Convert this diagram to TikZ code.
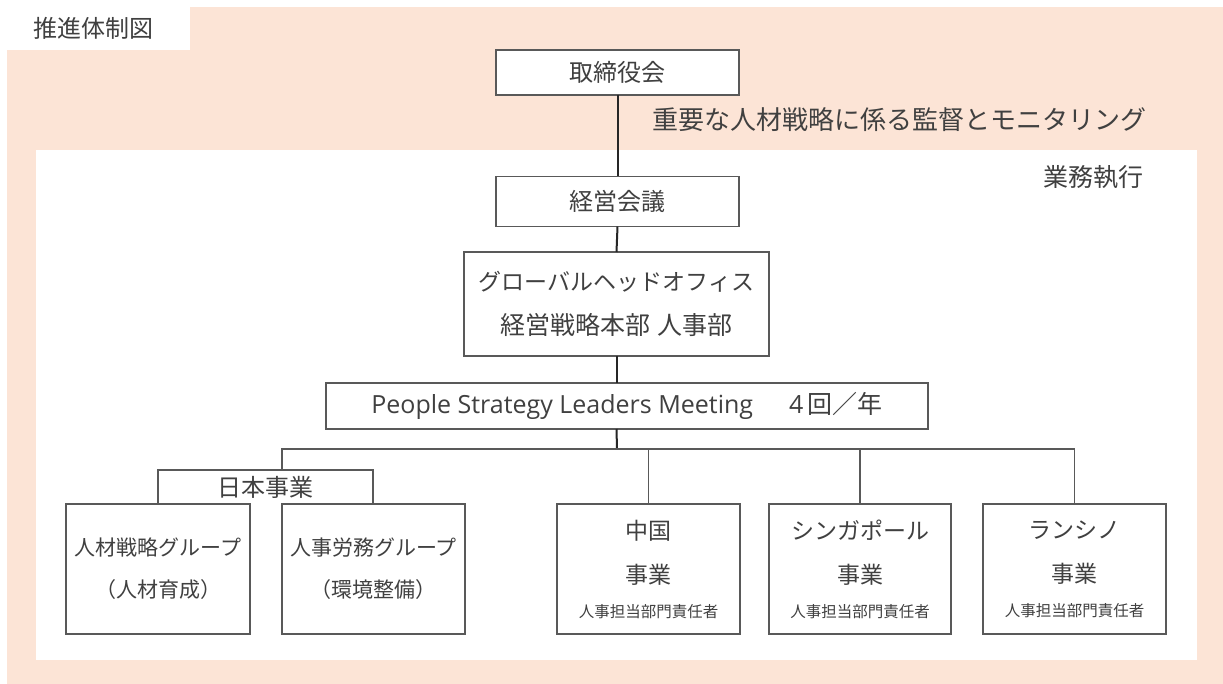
\documentclass[tikz,border=0pt]{standalone}
\usepackage{fontspec}
\setmainfont{Noto Sans CJK JP}
\newfontfamily\latinfont{Open Sans}
\definecolor{peach}{HTML}{FCE4D6}
\definecolor{txt}{HTML}{404040}
\definecolor{boxline}{HTML}{595959}
\definecolor{stemline}{HTML}{262626}
\begin{document}
\begin{tikzpicture}[x=1pt,y=-1pt,
  every node/.style={text=txt, inner sep=0pt, outer sep=0pt},
  big/.style={font=\fontsize{24}{44}\selectfont},
  mid/.style={font=\fontsize{23}{44}\selectfont},
  grp/.style={font=\fontsize{21}{42}\selectfont},
  box/.style={draw=boxline, line width=1.3pt, fill=white, align=center},
  stem/.style={draw=stemline, line width=2pt},
  branch/.style={draw=boxline, line width=1.2pt}]
\useasboundingbox (0,0) rectangle (1223,684);
\fill[white] (0,0) rectangle (1223,684);
\fill[peach] (7,7) rectangle (1223,684);
\fill[white] (36,150) rectangle (1197,660);
\node[big, fill=white, minimum width=183pt, minimum height=43pt] (title) at (98.5,28.5) {};
\node[big] (titletext) at (93,28) {推進体制図};

% main boxes
\node[box, big, minimum width=243pt, minimum height=45pt] (board) at (617.5,72.5) {取締役会};
\node[box, big, minimum width=243pt, minimum height=50pt] (mgmt) at (617.5,201.5) {経営会議};
\node[box, mid, minimum width=305pt, minimum height=104pt] (gho) at (616.5,304) {グローバルヘッドオフィス\\{\fontsize{25}{44}\selectfont 経営戦略本部\hspace{8pt}人事部}};
\node[box, font=\fontsize{25}{44}\selectfont, minimum width=602pt, minimum height=46pt] (pslm) at (627,406) {{\latinfont People Strategy Leaders Meeting}\hspace{36pt}{\latinfont 4}\,回／年};

% labels
\node[font=\fontsize{26}{44}\selectfont, anchor=west] (oversight) at (652,120) {重要な人材戦略に係る監督とモニタリング};
\node[font=\fontsize{25}{44}\selectfont, anchor=east] (exec) at (1143,177) {業務執行};

% Japan business
\node[big, minimum width=215pt, minimum height=34pt] (jp) at (265.5,487) {日本事業};
\node[box, grp, minimum width=184pt, minimum height=130pt] (g1) at (158,569) {人材戦略グループ\\（人材育成）};
\node[box, grp, minimum width=183pt, minimum height=130pt] (g2) at (373.5,569) {人事労務グループ\\（環境整備）};

% overseas businesses
\node[box, mid, minimum width=183pt, minimum height=130pt] (cn) at (648.5,569) {中国\\事業\\[-10pt]{\fontsize{15.5}{20}\selectfont 人事担当部門責任者}};
\node[box, mid, minimum width=182pt, minimum height=130pt] (sg) at (860,569) {シンガポール\\事業\\[-10pt]{\fontsize{15.5}{20}\selectfont 人事担当部門責任者}};
\node[box, mid, minimum width=183pt, minimum height=130pt] (ls) at (1074.5,569) {ランシノ\\事業\\[-10pt]{\fontsize{15.5}{20}\selectfont 人事担当部門責任者}};

% connectors
\coordinate (bar) at (617,449);
\coordinate (jpdrop) at (282,470);
\draw[stem] (board.south) -- (mgmt.north);
\draw[stem] (mgmt.south) -- (gho.north);
\draw[stem] (gho.south) -- (gho.south |- pslm.north);
\draw[stem] (gho.south |- pslm.south) -- (bar);
\draw[branch] (jpdrop) -- (jpdrop |- bar) -- (bar -| ls.north) -- (ls.north);
\draw[branch] (bar -| cn.north) -- (cn.north);
\draw[branch] (bar -| sg.north) -- (sg.north);
\draw[branch] (jp.south west) -- (jp.north west) -- (jp.north east) -- (jp.south east);
\end{tikzpicture}
\end{document}
